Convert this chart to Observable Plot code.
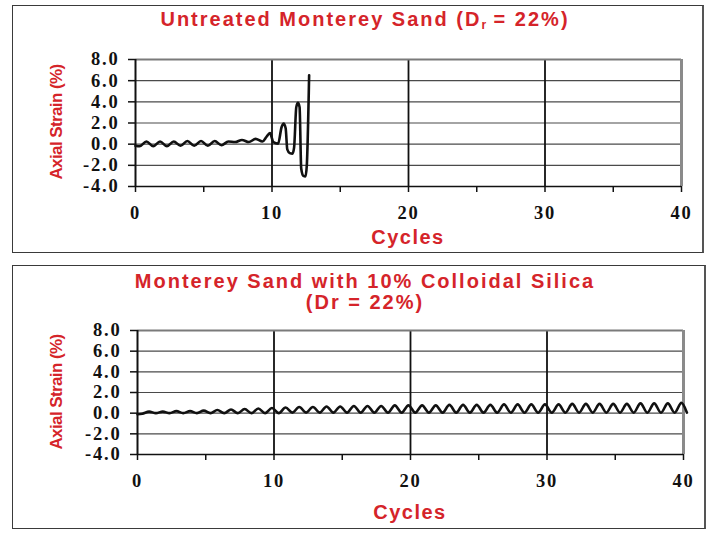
<!DOCTYPE html>
<html><head><meta charset="utf-8">
<script src="https://cdn.jsdelivr.net/npm/d3@7"></script>
<script src="https://cdn.jsdelivr.net/npm/@observablehq/plot@0.6"></script>
<style>
html,body{margin:0;padding:0;background:#fff;}
body{width:712px;height:535px;position:relative;overflow:hidden;font-family:"Liberation Sans",Arial,sans-serif;}
.panel{position:absolute;box-sizing:border-box;border:1.5px solid #3a3a3a;border-right:2px solid #555;}
.title{position:absolute;left:0;width:730px;text-align:center;color:#d5242a;font-weight:bold;font-size:20px;letter-spacing:2px;white-space:nowrap;line-height:22px;}
.title sub{font-size:12px;vertical-align:-3px;letter-spacing:0;}
.ylab{position:absolute;color:#d5242a;font-weight:bold;font-size:17px;letter-spacing:-0.6px;white-space:nowrap;transform:translate(-50%,-50%) rotate(-90deg);line-height:20px;}
.xlab{position:absolute;text-align:center;color:#d5242a;font-weight:bold;font-size:20px;letter-spacing:1.5px;line-height:24px;white-space:nowrap;}
.chart{position:absolute;left:0;}
.chart svg text{letter-spacing:1.8px;}
</style></head>
<body>
<div class="panel" style="left:12px;top:5px;width:692px;height:248px;"></div>
<div class="panel" style="left:12px;top:265px;width:694px;height:264px;"></div>
<div class="title" style="top:8px;">Untreated Monterey Sand (D<sub>r</sub> = 22%)</div>
<div class="title" style="top:270px;">Monterey Sand with 10% Colloidal Silica</div>
<div class="title" style="top:291px;">(Dr = 22%)</div>
<div class="ylab" style="left:57px;top:122px;">Axial Strain (%)</div>
<div class="ylab" style="left:57px;top:392px;">Axial Strain (%)</div>
<div class="xlab" style="left:0;width:816px;top:225px;">Cycles</div>
<div class="xlab" style="left:0;width:820px;top:500px;">Cycles</div>
<div id="top" class="chart" style="top:35px;"></div>
<div id="bottom" class="chart" style="top:305px;"></div>
<script>
// ---- data ----
const yTicks = [-4, -2, 0, 2, 4, 6, 8];
const xTicks = [0, 5, 10, 15, 20, 25, 30, 35, 40];
const xLabelled = [0, 10, 20, 30, 40];
const majorX = [10, 20, 30];

// Untreated Monterey Sand: cycles vs axial strain (%)
const untreatedCycles = [0, 0.3, 0.8, 1.3, 1.8, 2.3, 2.8, 3.3, 3.8, 4.3, 4.8, 5.3, 5.8, 6.3, 6.8, 7.3, 7.8, 8.3, 8.8, 9.3, 9.6, 9.85, 10.1, 10.45, 10.7, 10.85, 11.0, 11.12, 11.3, 11.5, 11.62, 11.78, 11.9, 12.02, 12.14, 12.3, 12.45, 12.55, 12.72];
const untreatedStrain = [-0.15, -0.2, 0.25, -0.2, 0.25, -0.2, 0.25, -0.15, 0.3, -0.15, 0.3, -0.15, 0.3, -0.1, 0.25, 0.2, 0.4, 0.2, 0.5, 0.25, 0.7, 1.05, 0.2, 0.05, 1.6, 1.95, 1.5, -0.5, -0.85, -0.9, -0.3, 3.5, 3.9, 3.5, -2.3, -3.0, -3.05, -2.0, 6.5];

// Monterey Sand with 10% Colloidal Silica: peaks and troughs
const silicaPeakCycles = [0.85, 1.85, 2.85, 3.85, 4.85, 5.85, 6.85, 7.85, 8.85, 9.85, 10.85, 11.85, 12.85, 13.85, 14.85, 15.85, 16.85, 17.85, 18.85, 19.85, 20.85, 21.85, 22.85, 23.85, 24.85, 25.85, 26.85, 27.85, 28.85, 29.85, 30.85, 31.85, 32.85, 33.85, 34.85, 35.85, 36.85, 37.85, 38.85, 39.85];
const silicaPeakStrain = [0.15, 0.15, 0.2, 0.2, 0.25, 0.3, 0.35, 0.4, 0.45, 0.5, 0.55, 0.6, 0.6, 0.65, 0.65, 0.7, 0.7, 0.7, 0.75, 0.75, 0.75, 0.75, 0.8, 0.8, 0.8, 0.8, 0.85, 0.85, 0.85, 0.85, 0.85, 0.9, 0.9, 0.9, 0.9, 0.9, 0.95, 0.95, 0.95, 1.0];
const silicaTroughCycles = [0, 0.35, 1.35, 2.35, 3.35, 4.35, 5.35, 6.35, 7.35, 8.35, 9.35, 10.35, 11.35, 12.35, 13.35, 14.35, 15.35, 16.35, 17.35, 18.35, 19.35, 20.35, 21.35, 22.35, 23.35, 24.35, 25.35, 26.35, 27.35, 28.35, 29.35, 30.35, 31.35, 32.35, 33.35, 34.35, 35.35, 36.35, 37.35, 38.35, 39.35, 40.25];
const silicaTroughStrain = [-0.1, -0.05, 0.0, 0.0, 0.0, 0.0, 0.0, 0.0, 0.0, 0.0, 0.0, 0.0, 0.05, 0.05, 0.05, 0.05, 0.05, 0.05, 0.05, 0.05, 0.05, 0.05, 0.05, 0.05, 0.05, 0.05, 0.05, 0.05, 0.05, 0.05, 0.05, 0.05, 0.05, 0.05, 0.05, 0.05, 0.05, 0.05, 0.05, 0.05, 0.05, 0.05];

// ---- tables ----
const untreated = untreatedCycles.map((c, i) => ({cycle: c, strain: untreatedStrain[i]}));
const silica = silicaPeakCycles.map((c, i) => ({cycle: c, strain: silicaPeakStrain[i]}))
  .concat(silicaTroughCycles.map((c, i) => ({cycle: c, strain: silicaTroughStrain[i]})))
  .sort((a, b) => a.cycle - b.cycle);

function panel(data, {height, marginTop, marginBottom, marginLeft, marginRight}) {
  return Plot.plot({
    width: 712, height, marginTop, marginBottom, marginLeft, marginRight,
    x: {domain: [0, 40]},
    y: {domain: [-4, 8]},
    style: {fontFamily: "'Liberation Serif', 'Times New Roman', serif", fontSize: "18.5px", fontWeight: "bold", color: "#111", background: "transparent", overflow: "visible"},
    marks: [
      Plot.gridY(yTicks, {stroke: "#4a4a4a", strokeOpacity: 1, strokeWidth: 1.2}),
      Plot.gridX(majorX, {stroke: "#111", strokeOpacity: 1, strokeWidth: 1.8}),
      Plot.ruleY([8], {stroke: "#7a7a7a", strokeWidth: 2}),
      Plot.ruleX([40], {stroke: "#8a8a8a", strokeWidth: 3}),
      Plot.ruleY([-4], {stroke: "#111", strokeWidth: 1.5}),
      Plot.ruleX([0], {stroke: "#111", strokeWidth: 2}),
      Plot.line(data, {x: "cycle", y: "strain", curve: "monotone-x", stroke: "#111", strokeWidth: 2.6}),
      Plot.axisY(yTicks, {tickSize: 7, tickPadding: 9, tickFormat: d => d.toFixed(1), label: null, strokeWidth: 1.5}),
      Plot.axisX(xTicks, {tickSize: 6, tickPadding: 13, tickFormat: d => xLabelled.includes(d) ? String(d) : "", label: null, strokeWidth: 1.5})
    ]
  });
}

document.getElementById("top").append(panel(untreated, {height: 215, marginTop: 24, marginBottom: 64, marginLeft: 135, marginRight: 31}));
document.getElementById("bottom").append(panel(silica, {height: 221, marginTop: 25, marginBottom: 72, marginLeft: 137, marginRight: 29}));
</script>
</body></html>
